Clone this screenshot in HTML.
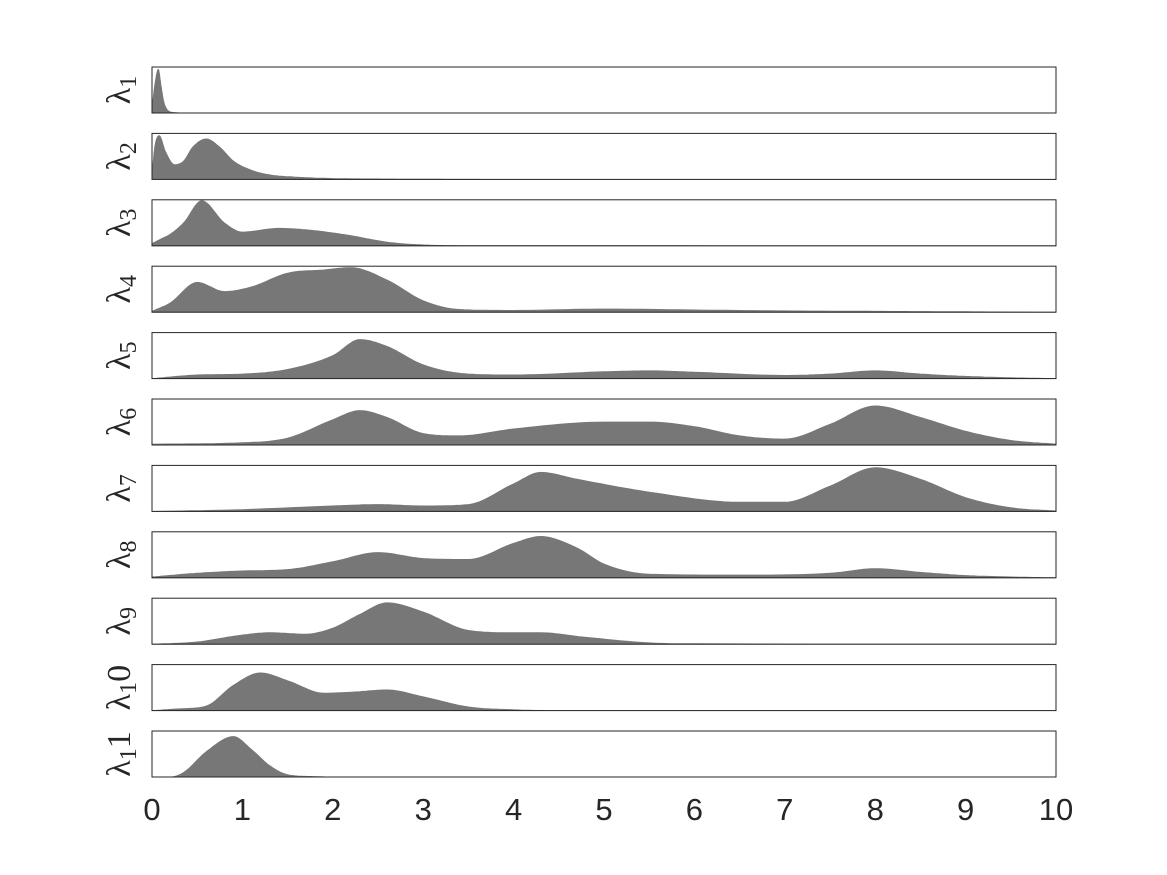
<!DOCTYPE html>
<html><head><meta charset="utf-8"><style>
body{margin:0;background:#fff;}
svg{display:block;}
</style></head><body>
<svg id="chart" width="1167" height="875" xmlns="http://www.w3.org/2000/svg"></svg>
<script>
const xTicks=[0,1,2,3,4,5,6,7,8,9,10];
const labelSubs=["1","2","3","4","5","6","7","8","9","1","1"];
const labelTails=["","","","","","","","","","0","1"];
const s1x=[0,0.03,0.07,0.1,0.13,0.18,0.25,0.4,10];
const s1y=[0.1,0.6,0.95,0.6,0.25,0.05,0.01,0,0];
const s2x=[0,0.03,0.08,0.15,0.25,0.35,0.45,0.6,0.75,0.9,1.1,1.3,1.6,2,2.5,3,4,10];
const s2y=[0.1,0.7,0.95,0.6,0.32,0.4,0.7,0.88,0.7,0.4,0.2,0.1,0.05,0.02,0.01,0.005,0,0];
const s3x=[0,0.1,0.2,0.35,0.55,0.8,1.0,1.4,1.8,2.2,2.6,3,3.5,10];
const s3y=[0.05,0.15,0.25,0.5,0.98,0.5,0.3,0.38,0.33,0.22,0.08,0.02,0.005,0];
const s4x=[0,0.2,0.5,0.8,1.1,1.5,1.9,2.2,2.6,3,3.4,4,5,6,7,8,9,10];
const s4y=[0.02,0.2,0.65,0.45,0.55,0.85,0.92,0.97,0.7,0.25,0.06,0.04,0.07,0.05,0.03,0.02,0.01,0];
const s5x=[0,0.5,1,1.5,2,2.3,2.6,3,3.5,4,5,5.5,6,7,7.5,8,8.5,9,9.5,10];
const s5y=[0,0.08,0.1,0.2,0.5,0.85,0.7,0.3,0.1,0.08,0.15,0.17,0.14,0.07,0.1,0.17,0.1,0.05,0.02,0];
const s6x=[0,1,1.5,2,2.3,2.6,3,3.4,4,5,5.5,6,6.5,7,7.5,8,8.5,9,9.5,10];
const s6y=[0.02,0.05,0.15,0.55,0.75,0.6,0.25,0.2,0.35,0.5,0.5,0.4,0.2,0.13,0.45,0.85,0.6,0.3,0.1,0.02];
const s7x=[0,1,2,2.5,3,3.5,4,4.3,4.7,5.5,6.5,7,7.5,8,8.5,9,9.5,10];
const s7y=[0,0.04,0.12,0.15,0.12,0.15,0.6,0.85,0.7,0.42,0.2,0.2,0.55,0.95,0.7,0.3,0.08,0.01];
const s8x=[0,0.5,1,1.5,2,2.5,3,3.5,4,4.3,4.7,5,5.5,6.5,7.5,8,8.5,9,9.5,10];
const s8y=[0.02,0.1,0.15,0.18,0.35,0.55,0.42,0.4,0.75,0.9,0.65,0.3,0.08,0.06,0.1,0.2,0.12,0.05,0.02,0];
const s9x=[0,0.5,1,1.3,1.7,2,2.3,2.6,3,3.5,4,4.3,4.8,5.5,6,10];
const s9y=[0,0.05,0.2,0.25,0.22,0.35,0.65,0.9,0.7,0.3,0.25,0.25,0.15,0.03,0.01,0];
const s10x=[0,0.3,0.6,0.9,1.2,1.5,1.9,2.2,2.6,3,3.5,4,4.5,10];
const s10y=[0,0.04,0.1,0.55,0.82,0.65,0.38,0.4,0.45,0.3,0.08,0.02,0,0];
const s11x=[0,0.2,0.35,0.6,0.9,1.1,1.3,1.5,1.8,2,10];
const s11y=[0,0,0.1,0.55,0.88,0.6,0.25,0.05,0.01,0,0];
const seriesX=[s1x,s2x,s3x,s4x,s5x,s6x,s7x,s8x,s9x,s10x,s11x];
const seriesY=[s1y,s2y,s3y,s4y,s5y,s6y,s7y,s8y,s9y,s10y,s11y];

const NS="http://www.w3.org/2000/svg";
const svg=document.getElementById('chart');
const X0=152,X1=1056,TOP0=67,STEP=66.4,PH=46;
const xs=v=>X0+(v-0)/(10-0)*(X1-X0);
function mk(t,a){const e=document.createElementNS(NS,t);for(const k in a)e.setAttribute(k,a[k]);svg.appendChild(e);return e;}
// monotone cubic (Fritsch-Carlson) smoothing between data points
function smooth(X,Y){
  const n=X.length,d=[],m=new Array(n).fill(0);
  for(let i=0;i<n-1;i++)d.push((Y[i+1]-Y[i])/(X[i+1]-X[i]));
  m[0]=d[0];m[n-1]=d[n-2];
  for(let i=1;i<n-1;i++){m[i]=(d[i-1]*d[i]<=0)?0:(d[i-1]+d[i])/2;}
  for(let i=0;i<n-1;i++){if(d[i]===0){m[i]=0;m[i+1]=0;continue;}const a=m[i]/d[i],b=m[i+1]/d[i],s=a*a+b*b;if(s>9){const t=3/Math.sqrt(s);m[i]=t*a*d[i];m[i+1]=t*b*d[i];}}
  const out=[];
  for(let i=0;i<n-1;i++){const h=X[i+1]-X[i],N=12;
    for(let k=0;k<N;k++){const t=k/N,t2=t*t,t3=t2*t;
      const y=(2*t3-3*t2+1)*Y[i]+(t3-2*t2+t)*h*m[i]+(-2*t3+3*t2)*Y[i+1]+(t3-t2)*h*m[i+1];
      out.push([X[i]+t*h,Math.max(0,y)]);}}
  out.push([X[n-1],Y[n-1]]);return out;
}
for(let i=0;i<seriesX.length;i++){
  const top=TOP0+i*STEP, bot=top+PH;
  const ys=v=>bot-v*PH;
  const pts=smooth(seriesX[i],seriesY[i]);
  let d=`M${xs(pts[0][0])},${bot}`;
  for(const p of pts)d+=` L${xs(p[0]).toFixed(1)},${ys(p[1]).toFixed(1)}`;
  d+=` L${xs(pts[pts.length-1][0])},${bot} Z`;
  const a=mk('path',{d:d,fill:'#777777',stroke:'#777777','stroke-width':'0.8'});
  
  
  const r=mk('rect',{x:X0,y:top,width:X1-X0,height:PH,fill:'none',stroke:'#262626','stroke-width':'1'});
  
  
  const cy=top+PH/2;
  const t=mk('text',{transform:`translate(130,${cy}) rotate(-90)`,'text-anchor':'middle','font-family':'Liberation Serif, serif','font-size':'34',fill:'#262626'});
  
  
  const s1=document.createElementNS(NS,'tspan');s1.textContent='λ';t.appendChild(s1);
  const s2=document.createElementNS(NS,'tspan');s2.textContent=labelSubs[i];s2.setAttribute('font-size','24');s2.setAttribute('dy','6');t.appendChild(s2);
  if(labelTails[i]){const s3=document.createElementNS(NS,'tspan');s3.textContent=labelTails[i];s3.setAttribute('dy','-6');t.appendChild(s3);}
}
for(const v of xTicks){
  const t=mk('text',{x:xs(v),y:820,'text-anchor':'middle','font-family':'Liberation Sans, sans-serif','font-size':'31',fill:'#262626'});
  t.textContent=v;
  
  
}
</script>
</body></html>
